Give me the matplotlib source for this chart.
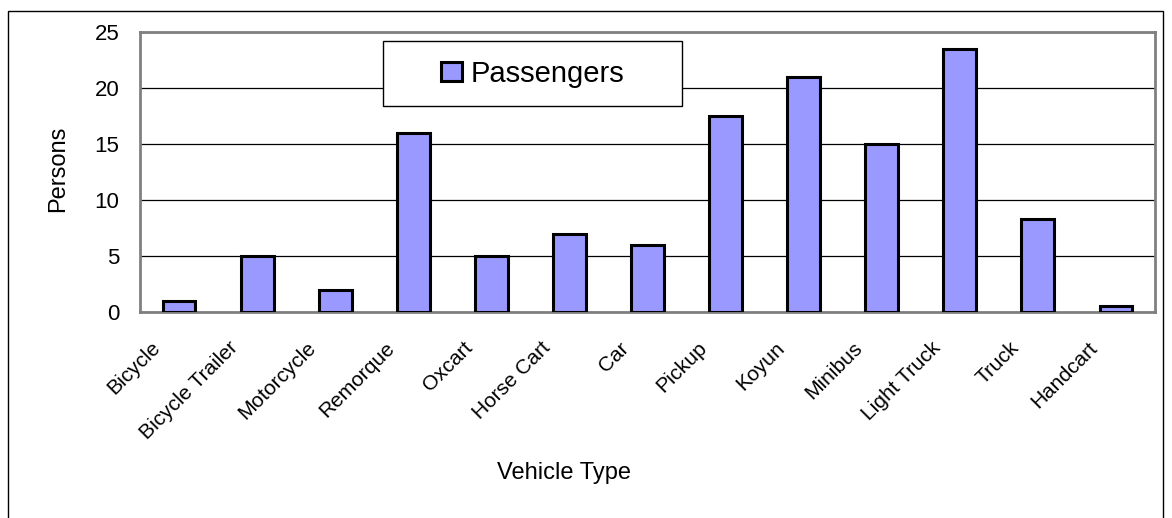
"""Vehicle type passengers bar chart"""

import matplotlib
matplotlib.use("Agg")
import matplotlib.pyplot as plt
from matplotlib.patches import Rectangle
from matplotlib.transforms import ScaledTranslation

plt.rcParams["font.family"] = ["Liberation Sans", "DejaVu Sans"]

# ── 数据 ──────────────────────────────────────
vehicles = [
    "Bicycle", "Bicycle Trailer", "Motorcycle", "Remorque", "Oxcart",
    "Horse Cart", "Car", "Pickup", "Koyun", "Minibus", "Light Truck",
    "Truck", "Handcart",
]
passengers = [1, 5, 2, 16, 5, 7, 6, 17.5, 21, 15, 23.5, 8.3, 0.5]
y_ticks = [0, 5, 10, 15, 20, 25]

BAR_COLOR = "#9999ff"

fig = plt.figure(figsize=(11.72, 5.18), dpi=100)
W, H = 1172, 518

# outer chart border
fig.patches.append(Rectangle((8 / W, -0.05), 1155 / W, 1 - 11 / H + 0.05,
                             transform=fig.transFigure, fill=False,
                             edgecolor="black", linewidth=1))

ax = fig.add_axes([140 / W, 1 - 312 / H, 1015 / W, 280 / H])

x = range(len(vehicles))
ax.bar(x, passengers, width=0.42, color=BAR_COLOR, edgecolor="black",
       linewidth=2.2, zorder=3, label="Passengers")

ax.set_xlim(-0.5, len(vehicles) - 0.5)
ax.set_ylim(0, 25)
ax.set_yticks(y_ticks)
ax.grid(axis="y", color="black", linewidth=0.9, zorder=0)
ax.tick_params(axis="both", length=0)
ax.tick_params(axis="y", labelsize=16, pad=15)
ax.set_xticks(list(x))
ax.set_xticklabels(vehicles, rotation=45, ha="right", va="center",
                   rotation_mode="anchor", fontsize=15)
ax.tick_params(axis="x", pad=0)
shift = ScaledTranslation(-22 / 100, -33 / 100, fig.dpi_scale_trans)
for lbl in ax.get_xticklabels():
    lbl.set_transform(lbl.get_transform() + shift)

for s in ax.spines.values():
    s.set_color("#808080")
    s.set_linewidth(2)

fig.text(58 / W, 1 - 169 / H, "Persons", fontsize=17, rotation=90,
         ha="center", va="center")
fig.text(564 / W, 1 - 473 / H, "Vehicle Type", fontsize=17,
         ha="center", va="center")

# legend box
fig.patches.append(Rectangle((383 / W, 1 - 106 / H), 299 / W, 65 / H,
                             transform=fig.transFigure, facecolor="white",
                             edgecolor="black", linewidth=1, zorder=5))
leg = fig.legend(loc="center", bbox_to_anchor=(533 / W, 1 - 74 / H),
                 frameon=False, fontsize=21, handlelength=0.72,
                 handleheight=0.62, handletextpad=0.3)
leg.set_zorder(6)

fig.savefig("out.png", dpi=100)
